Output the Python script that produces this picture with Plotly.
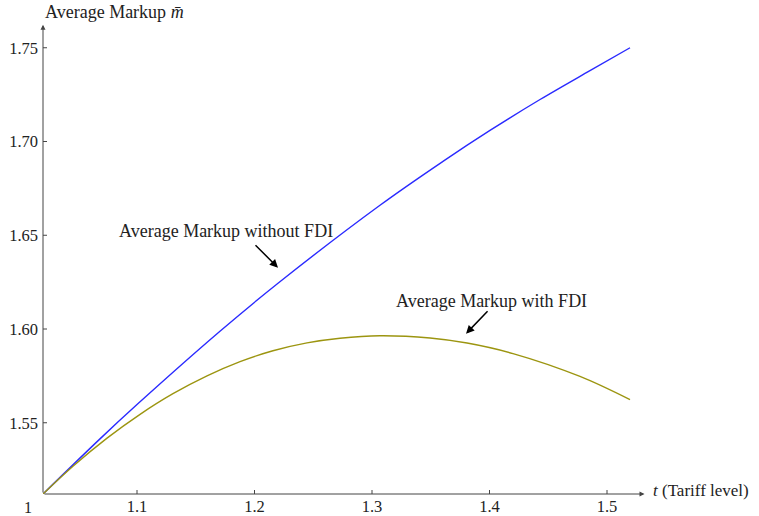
import plotly.graph_objects as go

# Data
t_blue = [1.02, 1.0685, 1.10, 1.1706, 1.22, 1.3068, 1.3604, 1.4004, 1.443, 1.4855, 1.5196]
m_blue = [1.512, 1.5414, 1.5597, 1.5988, 1.6244, 1.6660, 1.6894, 1.7059, 1.7224, 1.7378, 1.7500]

t_gold = [1.02, 1.0455, 1.0745, 1.1026, 1.1306, 1.1596, 1.1877, 1.2157, 1.2447, 1.2728,
          1.3068, 1.3494, 1.3809, 1.42, 1.477, 1.5196]
m_gold = [1.512, 1.5268, 1.5418, 1.5545, 1.5655, 1.5750, 1.5826, 1.5884, 1.5926, 1.5951,
          1.5964, 1.5952, 1.5925, 1.5869, 1.5747, 1.5623]

x_ticks = [1.1, 1.2, 1.3, 1.4, 1.5]
y_ticks = [1.55, 1.60, 1.65, 1.70, 1.75]
y_tick_text = ["1.55", "1.60", "1.65", "1.70", "1.75"]

FONT = "Liberation Serif"
AX = "#444444"
TXT = 18

fig = go.Figure()
fig.add_trace(go.Scatter(x=t_blue, y=m_blue, mode="lines",
                         line=dict(color="#2a2aff", width=1.4, shape="spline", smoothing=1),
                         hoverinfo="skip"))
fig.add_trace(go.Scatter(x=t_gold, y=m_gold, mode="lines",
                         line=dict(color="#9c9510", width=1.4, shape="spline", smoothing=1),
                         hoverinfo="skip"))

x0, x1 = 1.02, 1.02 + 605 / 1175
y0, y1 = 1.512, 1.512 + 472 / 1875

fig.update_layout(
    width=759, height=516,
    margin=dict(l=43, r=111, t=22, b=22, autoexpand=False),
    plot_bgcolor="white", paper_bgcolor="white",
    showlegend=False,
    font=dict(family=FONT, size=16, color="#222222"),
    xaxis=dict(range=[x0, x1], showgrid=False, zeroline=False, showline=False,
               tickvals=x_ticks, ticktext=[str(v) for v in x_ticks], automargin=False,
               ticks="", ticklabelstandoff=0, tickfont=dict(family=FONT, size=16.5)),
    yaxis=dict(range=[y0, y1], showgrid=False, zeroline=False, showline=False,
               tickvals=y_ticks, ticktext=y_tick_text, automargin=False,
               ticks="", ticklabelstandoff=4, tickfont=dict(family=FONT, size=16.5)),
)

# axes with arrows
fig.add_annotation(x=x1 - 0.003, y=y0, ax=x0, ay=y0, xref="x", yref="y", axref="x", ayref="y",
                   text="", showarrow=True, arrowhead=2, arrowsize=1, arrowwidth=1, arrowcolor=AX)
fig.add_annotation(x=x0, y=y1 - 0.0015, ax=x0, ay=y0, xref="x", yref="y", axref="x", ayref="y",
                   text="", showarrow=True, arrowhead=2, arrowsize=1, arrowwidth=1, arrowcolor=AX)

# inside ticks
for v in x_ticks:
    fig.add_shape(type="line", x0=v, x1=v, y0=y0, y1=y0 + 4 / 1875, xref="x", yref="y",
                  line=dict(color=AX, width=1))
for v in y_ticks:
    fig.add_shape(type="line", x0=x0, x1=x0 + 4 / 1175, y0=v, y1=v, xref="x", yref="y",
                  line=dict(color=AX, width=1))

# axis labels
fig.add_annotation(x=0, y=1.0, xref="paper", yref="paper", xanchor="left", yanchor="bottom",
                   text="Average Markup <i>m̄</i>", showarrow=False, yshift=-2,
                   font=dict(family=FONT, size=TXT))
fig.add_annotation(x=1.0, y=y0, xref="paper", yref="y", xanchor="left", yanchor="middle",
                   text="<i>t</i> (Tariff level)", showarrow=False, xshift=3, yshift=4,
                   font=dict(family=FONT, size=17))
fig.add_annotation(x=x0, y=y0, xref="x", yref="y", xanchor="right", yanchor="top",
                   text="1", showarrow=False, xshift=-9, yshift=-3,
                   font=dict(family=FONT, size=16))

# curve labels with arrows
fig.add_annotation(x=1.1757, y=1.6524, xref="x", yref="y", text="Average Markup without FDI",
                   showarrow=False, font=dict(family=FONT, size=TXT))
fig.add_annotation(x=1.22, y=1.6327, xref="x", yref="y", ax=-24, ay=-24, text="",
                   showarrow=True, arrowhead=2, arrowsize=1.1, arrowwidth=1.5, arrowcolor="black")
fig.add_annotation(x=1.4021, y=1.6151, xref="x", yref="y", text="Average Markup with FDI",
                   showarrow=False, font=dict(family=FONT, size=TXT))
fig.add_annotation(x=1.38, y=1.5975, xref="x", yref="y", ax=23, ay=-24, text="",
                   showarrow=True, arrowhead=2, arrowsize=1.1, arrowwidth=1.5, arrowcolor="black")

fig.write_html("out.html", config={"displayModeBar": False},
               post_script="document.body.style.margin='0';document.body.style.overflow='hidden';")
